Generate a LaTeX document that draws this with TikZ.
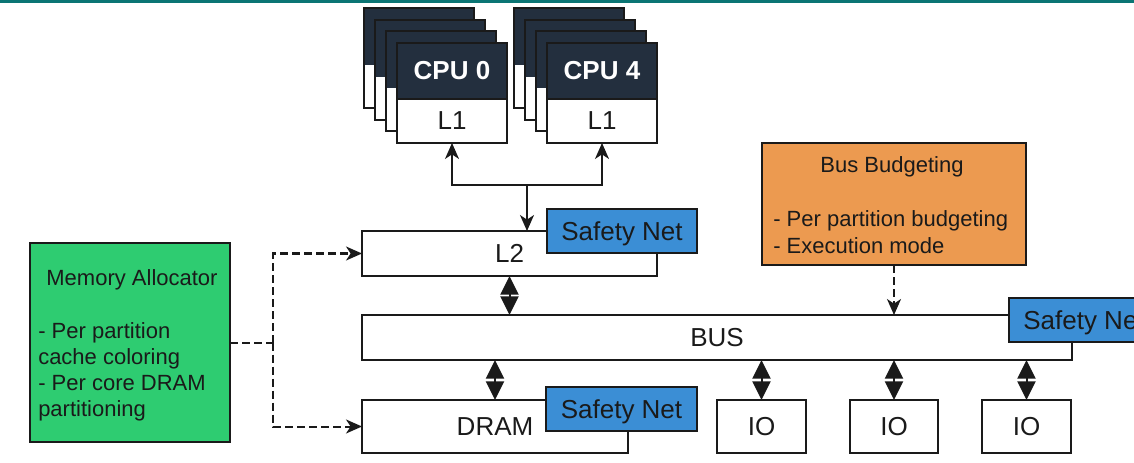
\documentclass[tikz,border=0pt]{standalone}
\usepackage{fontspec}
\setmainfont{Liberation Sans}
\usetikzlibrary{arrows.meta}
\definecolor{teal0}{HTML}{0B7574}
\definecolor{navy}{HTML}{232F3E}
\definecolor{snblue}{HTML}{3B8ED5}
\definecolor{orng}{HTML}{EC9A50}
\definecolor{grn}{HTML}{2ECC71}
\definecolor{ink}{HTML}{1A1A1A}
\begin{document}
\begin{tikzpicture}[x=0.75pt,y=-0.75pt,
  rect/.style 2 args={minimum width={#1*0.75pt}, minimum height={#2*0.75pt}, anchor=north west, inner sep=0pt, outer sep=0pt},
  box/.style={draw=ink, line width=1.5pt, fill=white, text=ink, font=\fontsize{19.5pt}{23pt}\selectfont},
  cpubox/.style={draw=ink, line width=1.5pt, fill=navy, text=white, font=\fontsize{19.5pt}{23pt}\selectfont\bfseries},
  safety/.style={draw=ink, line width=1.5pt, fill=snblue, text=ink, text depth=0pt, font=\fontsize{19.5pt}{23pt}\selectfont},
  note/.style={inner sep=0pt, text=ink, font=\fontsize{16.5pt}{19.5pt}\selectfont},
  conn/.style={draw=ink, line width=1.5pt},
  tip/.style={-{Stealth[length=12pt,width=10.5pt,inset=3.5pt]}},
  dbl/.style={{Triangle[length=14pt,width=13.5pt]}-{Triangle[length=14pt,width=13.5pt]}},
  dsh/.style={conn, dash pattern=on 6pt off 3pt},
]
\useasboundingbox (0,0) rectangle (1134,463);
\clip (0,0) rectangle (1134,463);
\fill[white] (0,0) rectangle (1134,463);
\fill[teal0] (0,0) rectangle (1134,3.5);

% stacked back cards
\foreach \s in {0,150}{
  \foreach \i in {0,1,2}{
    \fill[white] ({364+\s+11*\i},{8+11.7*\i}) rectangle +(110,100);
    \fill[navy] ({364+\s+11*\i},{8+11.7*\i}) rectangle +(110,57);
    \draw[ink, line width=1.5pt] ({364+\s+11*\i},{8+11.7*\i}) rectangle +(110,100);
  }
}

% front CPU cards
\node[cpubox, rect={110}{56}] (cpu0) at (397,43) {CPU 0};
\node[box, rect={110}{44}] (l1a) at (397,99) {L1};
\node[cpubox, rect={110}{56}] (cpu4) at (547,43) {CPU 4};
\node[box, rect={110}{44}] (l1b) at (547,99) {L1};

% L2, BUS, DRAM, IO
\node[box, rect={295}{45}] (L2) at (362,231) {L2};
\node[safety, rect={150}{44}] (snL2) at (547,209) {Safety Net};
\node[box, rect={710}{45}] (BUS) at (362,315) {BUS};
\node[safety, rect={150}{44}] (snBUS) at (1009,298) {Safety Net};
\node[box, rect={266}{53}] (DRAM) at (362,400) {DRAM};
\node[safety, rect={151}{44}] (snDRAM) at (546,387) {Safety Net};
\node[box, rect={89}{53}] (io1) at (717,400) {IO};
\node[box, rect={88}{53}] (io2) at (850,400) {IO};
\node[box, rect={89}{53}] (io3) at (982,400) {IO};

% Bus Budgeting
\node[draw=ink, line width=1.5pt, fill=orng, rect={264}{122}] (bb) at (762,143) {};
\node[note, anchor=base] (bbt) at (892,173) {Bus Budgeting};
\node[note, anchor=base west] (bb1) at (773,227) {- Per partition budgeting};
\node[note, anchor=base west] (bb2) at (773,253) {- Execution mode};

% Memory Allocator
\node[draw=ink, line width=1.5pt, fill=grn, rect={200}{199}] (ma) at (30,243) {};
\node[note, anchor=base] (mat) at (132,285) {Memory Allocator};
\node[note, anchor=base west] (ma1) at (38,338) {- Per partition};
\node[note, anchor=base west] (ma2) at (38,364) {cache coloring};
\node[note, anchor=base west] (ma3) at (38,390) {- Per core DRAM};
\node[note, anchor=base west] (ma4) at (38,416) {partitioning};

% CPU <-> L2 connectors
\coordinate (J2) at (527,185);
\draw[conn, tip] (J2) -| (l1a.south);
\draw[conn, tip] (J2) -| (l1b.south);
\draw[conn, tip] (J2) -- (J2 |- L2.north);

% double arrows
\draw[conn, dbl, fill=ink] (L2.south) -- (L2.south |- BUS.north);
\draw[conn, dbl, fill=ink] (DRAM.north) -- (DRAM.north |- BUS.south);
\draw[conn, dbl, fill=ink] (io1.north) -- (io1.north |- BUS.south);
\draw[conn, dbl, fill=ink] (io2.north) -- (io2.north |- BUS.south);
\draw[conn, dbl, fill=ink] (io3.north) -- (io3.north |- BUS.south);

% dashed connectors
\draw[dsh, tip] (bb.south) -- (bb.south |- BUS.north);
\coordinate (J1) at (273,342.5);
\draw[dsh] (ma.east) -- (J1);
\draw[dsh, tip] (J1) |- (L2.west);
\draw[dsh, tip] (J1) |- (DRAM.west);
\end{tikzpicture}
\end{document}
